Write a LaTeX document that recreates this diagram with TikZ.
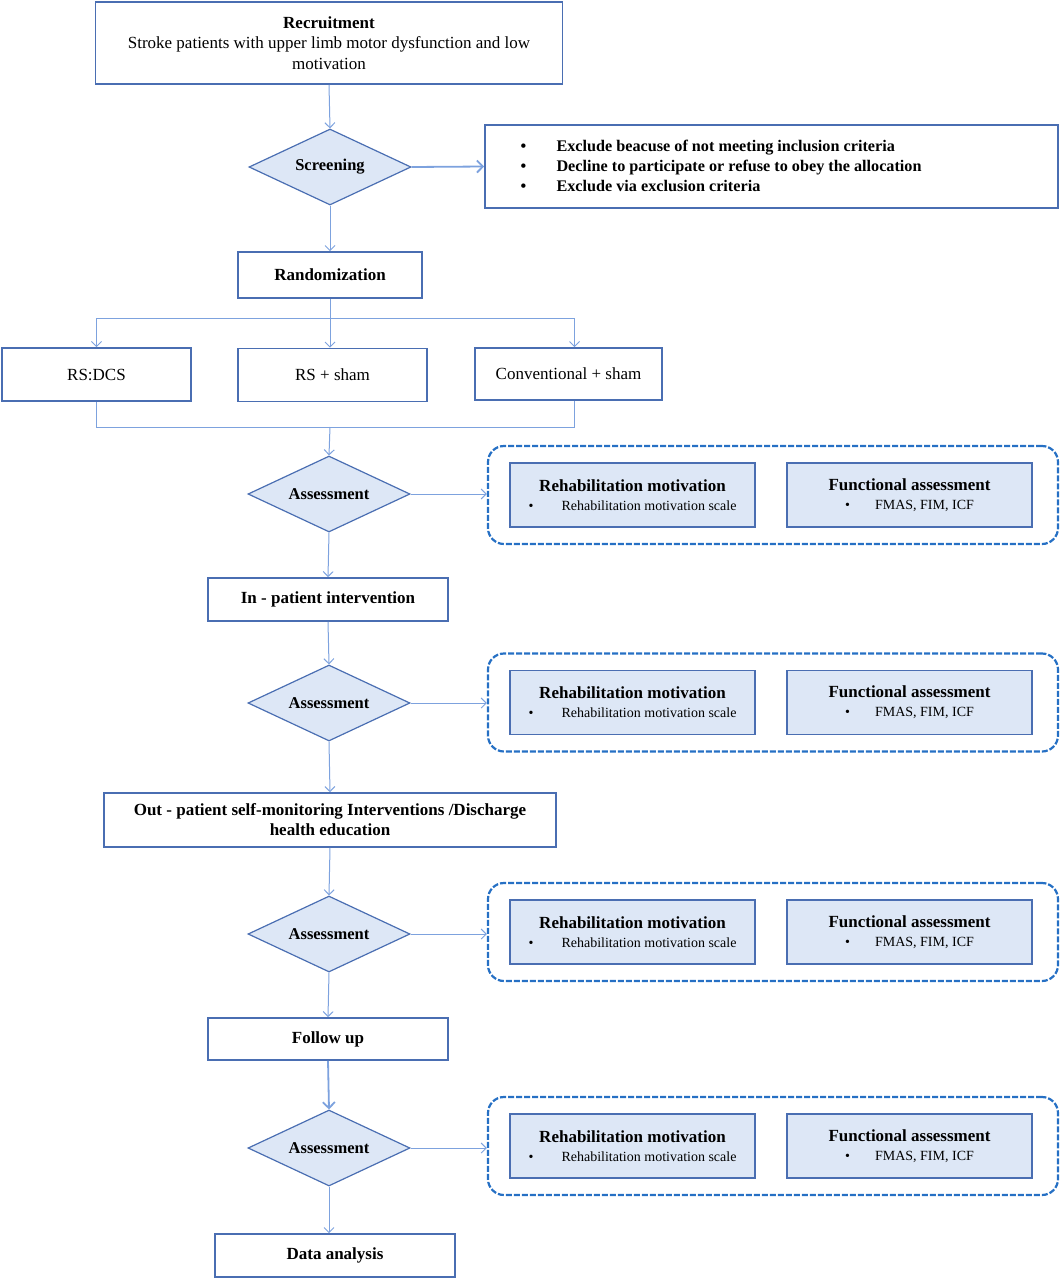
\documentclass[tikz,border=0pt]{standalone}
\usepackage{fontspec}
\setmainfont{Liberation Serif}
\usetikzlibrary{shapes.geometric,arrows.meta}
\definecolor{bord}{RGB}{74,110,178}
\definecolor{lfill}{RGB}{221,231,246}
\definecolor{dashc}{RGB}{38,112,196}
\definecolor{conn}{RGB}{125,162,222}
\begin{document}
\begin{tikzpicture}[x=1pt,y=-1pt,
  box/.style={draw=bord,line width=1.6pt,fill=white,align=center,inner sep=2pt},
  bbox/.style={box,font=\fontsize{17}{20}\selectfont\bfseries},
  nbox/.style={box,font=\fontsize{17}{20.5}\selectfont},
  dia/.style={diamond,draw=bord,line width=1.2pt,fill=lfill,aspect=2.1,inner sep=0pt,
    minimum width=162pt,minimum height=76pt,font=\fontsize{16.5}{19}\selectfont\bfseries},
  inbox/.style={draw=bord,line width=1.4pt,fill=lfill,minimum width=245pt,minimum height=64pt,
    align=center,inner sep=1pt,font=\fontsize{14}{19}\selectfont},
  grp/.style={draw=dashc,line width=2.2pt,rounded corners=16pt,dash pattern=on 6pt off 2pt,
    minimum width=570pt,minimum height=98pt},
  arr/.style={draw=conn,line width=1pt,-{Straight Barb[length=5pt,width=10pt]}},
  arrs/.style={draw=conn,line width=1.8pt,-{Straight Barb[length=6pt,width=12pt]}},
  ln/.style={draw=conn,line width=1pt}
]
\useasboundingbox (0,0) rectangle (1063,1280);

% top part
\node[nbox,minimum width=467pt,minimum height=82pt] (rec) at (329,43)
  {\textbf{Recruitment}\\Stroke patients with upper limb motor dysfunction and low\\motivation};
\node[dia] (scr) at (330,167) {Screening};
\node[box,minimum width=573pt,minimum height=83pt] (exc) at (771.5,166.5) {};
\node[anchor=west,align=left,font=\fontsize{16.2}{20}\selectfont\bfseries] (exctext) at (517,166)
  {\makebox[36pt][l]{\textbullet}Exclude beacuse of not meeting inclusion criteria\\
   \makebox[36pt][l]{\textbullet}Decline to participate or refuse to obey the allocation\\
   \makebox[36pt][l]{\textbullet}Exclude via exclusion criteria};
\node[bbox,minimum width=184pt,minimum height=46pt] (rand) at (330,275) {Randomization};

\node[nbox,minimum width=189pt,minimum height=53pt] (dcs) at (96.5,374.5) {RS:DCS};
\node[nbox,minimum width=189pt,minimum height=53pt] (sham) at (332.5,375) {RS + sham};
\node[nbox,minimum width=187pt,minimum height=52pt] (conv) at (568.5,374) {Conventional + sham};
\coordinate (bm) at (330,318);
\coordinate (mm) at (330,427);

% assessment blocks
\node[dia] (a1) at (329,494) {Assessment};
\node[bbox,minimum width=240pt,minimum height=43pt] (inp) at (328,599.5) {In - patient intervention};
\node[dia] (a2) at (329,703) {Assessment};
\node[bbox,minimum width=452pt,minimum height=54pt] (outp) at (330,820)
  {Out - patient self-monitoring Interventions /Discharge\\health education};
\node[dia] (a3) at (329,934) {Assessment};
\node[bbox,minimum width=240pt,minimum height=42pt] (fol) at (328,1039) {Follow up};
\node[dia] (a4) at (329,1148) {Assessment};
\node[bbox,minimum width=240pt,minimum height=43pt] (dat) at (335,1255.5) {Data analysis};

% grouped measurement boxes
\foreach \i/\y in {1/495,2/702.5,3/932,4/1146}{
  \node[grp] (g\i) at (773,\y) {};
  \node[inbox] (rm\i) at (632.5,\y) {{\fontsize{17}{19}\selectfont\bfseries Rehabilitation motivation}\\
     \makebox[33pt][l]{\textbullet}Rehabilitation motivation scale};
  \node[inbox] (fa\i) at (909.5,\y) {{\fontsize{17}{19}\selectfont\bfseries Functional assessment}\\
     \makebox[30pt][l]{\textbullet}FMAS, FIM, ICF};
}

% connectors
\draw[arr] (rec.south) -- (scr.north);
\draw[arrs] (scr.east) -- (exc.west);
\draw[arr] (scr.south) -- (rand.north);
\draw[ln] (rand.south) -- (bm);
\draw[arr] (bm) -| (dcs.north);
\draw[arr] (bm) -- (bm |- sham.north);
\draw[arr] (bm) -| ([xshift=6pt]conv.north);
\draw[ln] (dcs.south) |- (mm);
\draw[ln] ([xshift=6pt]conv.south) |- (mm);
\draw[arr] (mm) -- (a1.north);
\draw[arr] (a1.east) -- (a1.east -| g1.west);
\draw[arr] (a1.south) -- (inp.north);
\draw[arr] (inp.south) -- (a2.north);
\draw[arr] (a2.east) -- (a2.east -| g2.west);
\draw[arr] (a2.south) -- (outp.north);
\draw[arr] (outp.south) -- (a3.north);
\draw[arr] (a3.east) -- (a3.east -| g3.west);
\draw[arr] (a3.south) -- (fol.north);
\draw[arrs] (fol.south) -- (a4.north);
\draw[arr] (a4.east) -- (a4.east -| g4.west);
\draw[arr] (a4.south) -- (a4.south |- dat.north);
\end{tikzpicture}
\end{document}
